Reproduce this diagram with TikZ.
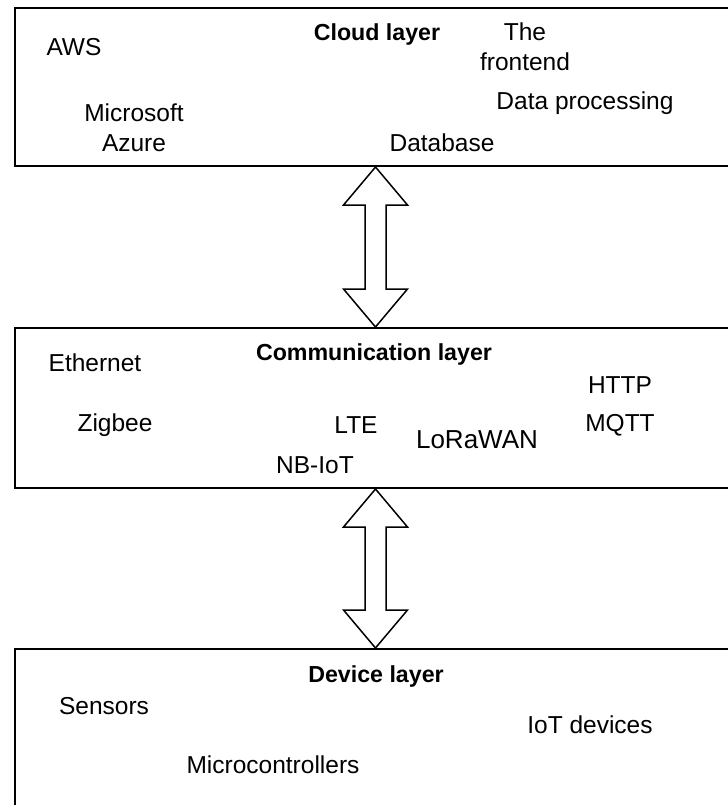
\documentclass[tikz,border=0pt]{standalone}
\usepackage{fontspec}
\setmainfont{Liberation Sans}
\usetikzlibrary{calc,fit}

\begin{document}
\begin{tikzpicture}[x=0.5pt,y=-0.5pt,
		layer/.style={draw, line width=1pt, inner sep=0pt},
		title/.style={font=\fontsize{11.6}{13}\selectfont\bfseries},
		item/.style={font=\fontsize{12.25}{15}\selectfont, align=center},
		updown/.style={draw, fill=white, line width=0.75pt, line join=miter}]
		\def\headw{32}    % Half width of an arrow head
		\def\headl{38}    % Length of an arrow head
		\def\shaftw{10.5} % Half width of the arrow shaft
		
		\clip (0,0) rectangle (728,805);
		
		% The three layers, right side runs off the page
		\node[layer, fit={(15,8) (736,166)}] (cloud) {};
		\node[layer, fit={(15,328) (736,488)}] (comm) {};
		\node[layer, fit={(15,649) (736,840)}] (device) {};
		
		% Two-headed block arrows between neighbouring layers
		\foreach \src/\dst in {cloud/comm, comm/device} {
			\draw[updown] (\src.south) -- ++(\headw,\headl)
				-- ($(\src.south)+(\shaftw,\headl)$)
				-- ($(\dst.north)+(\shaftw,-\headl)$) -- ++(\headw-\shaftw,0)
				-- (\dst.north) -- ++(-\headw,-\headl)
				-- ($(\dst.north)+(-\shaftw,-\headl)$)
				-- ($(\src.south)+(-\shaftw,\headl)$) -- ++(-\headw+\shaftw,0)
				-- cycle;
		}
		
		% Cloud layer
		\node[title] (cloudT) at (377,34) {Cloud layer};
		\node[item] (aws) at (74,47) {AWS};
		\node[item] (front) at (525,47) {The\\frontend};
		\node[item] (azure) at (134,128) {Microsoft\\Azure};
		\node[item] (proc) at (585,103) {Data processing};
		\node[item] (db) at (442,143) {Database};
		
		% Communication layer
		\node[title] (commT) at (374,354) {Communication layer};
		\node[item] (eth) at (95,363) {Ethernet};
		\node[item] (http) at (620,385) {HTTP};
		\node[item] (zig) at (115,425) {Zigbee};
		\node[item] (lte) at (356,425) {LTE};
		\node[item] (mqtt) at (620,425) {MQTT};
		\node[item, font=\fontsize{13}{15}\selectfont] (lora) at (477,440) {LoRaWAN};
		\node[item] (nbiot) at (315,465) {NB-IoT};
		
		% Device layer
		\node[title] (devT) at (376,676) {Device layer};
		\node[item] (sens) at (104,706) {Sensors};
		\node[item] (iot) at (590,725) {IoT devices};
		\node[item] (mcu) at (273,765) {Microcontrollers};
	\end{tikzpicture}
\end{document}
